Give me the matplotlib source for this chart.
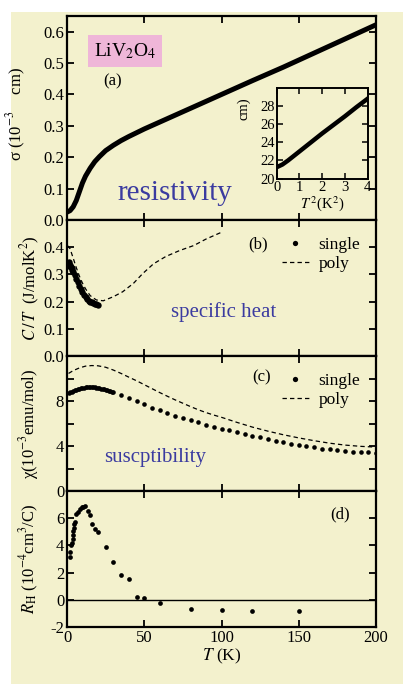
import matplotlib
matplotlib.use("Agg")
import matplotlib.pyplot as plt
from matplotlib.lines import Line2D
from matplotlib.patches import Rectangle

plt.rcParams['font.family'] = ['Liberation Serif', 'DejaVu Serif']
plt.rcParams['mathtext.fontset'] = 'stix'

# ---------------- data ----------------
# (a) resistivity
rho_T = [0, 2, 4, 6, 8, 10, 12, 15, 18, 21, 25, 30, 35, 40, 50, 60, 70, 80, 90, 100, 120, 140, 160, 180, 200]
rho_val = [0.025, 0.03, 0.042, 0.062, 0.09, 0.118, 0.14, 0.165, 0.186, 0.202, 0.221, 0.238, 0.253, 0.266, 0.29,
           0.312, 0.334, 0.356, 0.378, 0.40, 0.444, 0.487, 0.532, 0.577, 0.622]
# inset: rho vs T^2
ins_T2 = [0, 0.25, 0.5, 1, 1.5, 2, 2.5, 3, 3.5, 4]
ins_val = [21.25, 21.55, 22.0, 23.0, 24.0, 25.0, 25.95, 26.9, 27.9, 28.85]

# (b) specific heat C/T
cs_T = [1.5, 1.5, 2, 2.5, 3, 3.5, 4, 5, 6, 7, 8, 9, 10, 11, 12, 13, 14, 15, 16, 17, 18, 19, 20]
cs_val = [0.345, 0.33, 0.335, 0.328, 0.322, 0.316, 0.31, 0.296, 0.284, 0.272, 0.259, 0.247, 0.236, 0.226,
          0.216, 0.208, 0.203, 0.2, 0.197, 0.195, 0.193, 0.191, 0.189]
cp_T = [0.3, 2, 4, 6, 8, 10, 12, 15, 19, 23.5, 30, 36, 43, 49, 56, 64, 73, 82, 90, 100]
cp_val = [0.406, 0.394, 0.36, 0.325, 0.294, 0.268, 0.247, 0.222, 0.206, 0.203, 0.218, 0.236, 0.267, 0.303,
          0.339, 0.366, 0.388, 0.406, 0.43, 0.455]

# (c) susceptibility
xs_T = [1, 2, 3, 4, 5, 6, 7, 8, 9, 10, 11, 12, 13, 14, 15, 16, 17, 18, 19, 20, 21, 22, 23, 24, 25, 26, 27, 28,
        29, 30, 35, 40, 45, 50, 55, 60, 65, 70, 75, 80, 85, 90, 95, 100, 105, 110, 115, 120, 125, 130, 135,
        140, 145, 150, 155, 160, 165, 170, 175, 180, 185, 190, 195, 200]
xs_val = [8.72, 8.76, 8.82, 8.88, 8.94, 9.0, 9.05, 9.1, 9.14, 9.18, 9.2, 9.22, 9.23, 9.24, 9.24, 9.24, 9.23,
          9.21, 9.19, 9.16, 9.13, 9.1, 9.06, 9.03, 9.0, 8.96, 8.92, 8.88, 8.84, 8.8,
          8.53, 8.27, 8.03, 7.72, 7.40, 7.20, 6.93, 6.70, 6.48, 6.28, 6.09, 5.88, 5.71, 5.55, 5.38, 5.22,
          5.07, 4.93, 4.78, 4.62, 4.48, 4.35, 4.22, 4.10, 3.98, 3.87, 3.77, 3.69, 3.62, 3.56, 3.51, 3.47,
          3.43, 3.40]
xp_T = [1, 4, 8, 12, 16, 20, 25, 30, 35, 40, 45, 50, 55, 60, 65, 70, 75, 80, 85, 90, 95, 100, 110, 120, 130,
        140, 150, 160, 170, 180, 190, 200]
xp_val = [10.45, 10.7, 10.94, 11.1, 11.15, 11.13, 11.0, 10.75, 10.45, 10.12, 9.8, 9.45, 9.1, 8.75, 8.42, 8.1,
          7.8, 7.5, 7.22, 6.97, 6.75, 6.55, 6.1, 5.68, 5.32, 5.0, 4.72, 4.47, 4.25, 4.08, 3.97, 3.9]

# (d) Hall coefficient
rh_T = [1.8, 2.2, 2.8, 3.2, 3.6, 3.9, 4.2, 4.5, 4.7, 5.0, 5.8, 6.8, 8.2, 9.4, 10.5, 11.8, 13.6, 14.8, 16.0,
        18.0, 20.0, 25, 30, 35, 40, 45, 50, 60, 80, 100, 120, 150]
rh_val = [3.15, 3.55, 4.05, 4.15, 4.5, 4.8, 5.05, 5.3, 5.55, 5.75, 6.3, 6.45, 6.65, 6.8, 6.85, 6.9, 6.5, 6.25,
          5.6, 5.2, 4.95, 3.85, 2.8, 1.8, 1.5, 0.2, 0.1, -0.25, -0.7, -0.78, -0.8, -0.85]

x_ticks = [0, 50, 100, 150, 200]

# ---------------- figure ----------------
W, H = 403, 684
fig = plt.figure(figsize=(W / 100, H / 100), dpi=100, facecolor='white')
cream = '#f3f1cd'
blue = '#3b3ba0'
fig.patches.append(Rectangle((11 / W, 0), 1 - 11 / W, (H - 12) / H, transform=fig.transFigure,
                             facecolor=cream, edgecolor='none', zorder=-10))

L, Wd = 67 / W, 309 / W

def mkax(top, bot):
    return fig.add_axes([L, (H - bot) / H, Wd, (bot - top) / H], facecolor=cream)

axa = mkax(16, 220)
axb = mkax(220, 356)
axc = mkax(356, 491)
axd = mkax(491, 627)

for ax in (axa, axb, axc, axd):
    ax.set_xlim(0, 200)
    ax.set_xticks(x_ticks)
    ax.tick_params(which='both', direction='in', top=True, right=True, length=5, width=1.3,
                   labelsize=12, pad=2)
    for s in ax.spines.values():
        s.set_linewidth(1.6)
    if ax is not axd:
        ax.tick_params(labelbottom=False)

# (a)
axa.plot(rho_T, rho_val, color='black', lw=3.6, solid_capstyle='butt')
axa.set_ylim(0, 0.65)
axa.set_yticks([0, 0.1, 0.2, 0.3, 0.4, 0.5, 0.6], ['0.0', '0.1', '0.2', '0.3', '0.4', '0.5', '0.6'])
axa.set_ylabel('σ (10$^{-3}$    cm)', fontsize=12)
axa.yaxis.set_label_coords(-0.125, 0.52)
axa.text(0.188, 0.828, 'LiV$_2$O$_4$', transform=axa.transAxes, fontsize=14, ha='center', va='center',
         bbox=dict(boxstyle='square,pad=0.3', facecolor='#efb6d8', edgecolor='none'))
axa.text(0.146, 0.68, '(a)', transform=axa.transAxes, fontsize=12, ha='center', va='center')
axa.text(0.35, 0.13, 'resistivity', transform=axa.transAxes, fontsize=21, ha='center', va='center',
         color=blue)

# inset
axi = fig.add_axes([276.7 / W, (H - 178.5) / H, 91 / W, 90.2 / H], facecolor=cream)
axi.plot(ins_T2, ins_val, color='black', lw=3.2)
axi.set_xlim(0, 4)
axi.set_ylim(20, 30)
axi.set_xticks([0, 1, 2, 3, 4])
axi.set_yticks([20, 22, 24, 26, 28])
axi.tick_params(direction='in', top=True, right=True, length=4, width=1.1, labelsize=10.5, pad=1.5)
for s in axi.spines.values():
    s.set_linewidth(1.4)
axi.set_xlabel('$T^{\\,2}$(K$^2$)', fontsize=10.5, labelpad=0)
axi.text(-0.36, 0.77, 'cm)', transform=axi.transAxes, rotation=90, fontsize=10.5, ha='center', va='center')

# (b)
axb.plot(cs_T, cs_val, 'o', color='black', ms=4.6, mew=0)
axb.plot(cp_T, cp_val, color='black', lw=0.9, ls=(0, (3.5, 2.5)))
axb.set_ylim(0, 0.5)
axb.set_yticks([0, 0.1, 0.2, 0.3, 0.4, 0.5], ['0.0', '0.1', '0.2', '0.3', '0.4', ''])
axb.set_ylabel('$C\\,/\\,T$  (J/molK$^2$)', fontsize=12)
axb.yaxis.set_label_coords(-0.08, 0.5)
axb.text(0.618, 0.82, '(b)', transform=axb.transAxes, fontsize=12, ha='center', va='center')
axb.text(0.508, 0.32, 'specific heat', transform=axb.transAxes, fontsize=15, ha='center', va='center',
         color=blue)

# (c)
axc.plot(xs_T, xs_val, 'o', color='black', ms=3.3, mew=0)
axc.plot(xp_T, xp_val, color='black', lw=0.9, ls=(0, (3.5, 2.5)))
axc.set_ylim(0, 12)
axc.set_yticks([0, 4, 8], ['0', '4', '8'])
axc.set_yticks([2, 6, 10, 12], minor=True)
axc.tick_params(which='minor', length=5, width=1.3)
axc.set_ylabel('χ(10$^{-3}$emu/mol)', fontsize=12)
axc.yaxis.set_label_coords(-0.085, 0.5)
axc.text(0.63, 0.84, '(c)', transform=axc.transAxes, fontsize=12, ha='center', va='center')
axc.text(0.285, 0.245, 'suscptibility', transform=axc.transAxes, fontsize=15, ha='center', va='center',
         color=blue)

# legends
for ax in (axb, axc):
    h = [Line2D([], [], marker='o', ls='none', color='black', ms=3.8, mew=0),
         Line2D([], [], color='black', lw=0.9, ls=(0, (3.5, 2.5)))]
    ax.legend(h, ['single', 'poly'], loc='upper left', bbox_to_anchor=(0.695, 0.875), frameon=False,
              fontsize=12.5, handlelength=1.55, handletextpad=0.57, borderpad=0, borderaxespad=0,
              labelspacing=0.15)

# (d)
axd.axhline(0, color='black', lw=1.0)
axd.plot(rh_T, rh_val, 'o', color='black', ms=3.4, mew=0)
axd.set_ylim(-2, 8)
axd.set_yticks([-2, 0, 2, 4, 6, 8], ['-2', '0', '2', '4', '6', ''])
axd.set_ylabel('$R_{\\rm H}$ (10$^{-4}$cm$^3$/C)', fontsize=12)
axd.yaxis.set_label_coords(-0.085, 0.5)
axd.text(0.885, 0.83, '(d)', transform=axd.transAxes, fontsize=12, ha='center', va='center')
axd.set_xlabel('$T$ (K)', fontsize=12.5, labelpad=1)

fig.savefig('out.png', dpi=100, facecolor='white')
